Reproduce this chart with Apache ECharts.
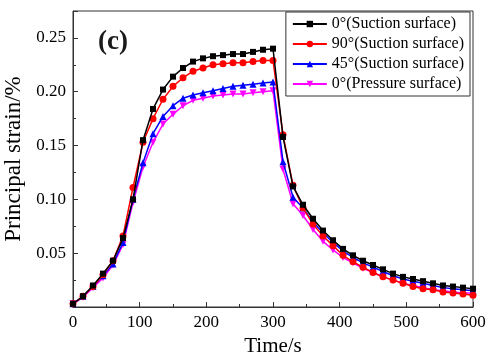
<!DOCTYPE html>
<html><head><meta charset="utf-8">
<script src="https://cdn.jsdelivr.net/npm/echarts@6/dist/echarts.min.js"></script>
<style>html,body{margin:0;padding:0;background:#fff}#c{width:492px;height:364px}</style>
</head><body><div id="c"></div>
<script>
const times = [0,15,30,45,60,75,90,105,120,135,150,165,180,195,210,225,240,255,270,285,300,315,330,345,360,375,390,405,420,435,450,465,480,495,510,525,540,555,570,585,600];
const seriesNames = ['0°(Suction surface)','90°(Suction surface)','45°(Suction surface)','0°(Pressure surface)'];
const suction0 = [0.003,0.010,0.020,0.031,0.043,0.064,0.100,0.155,0.184,0.202,0.214,0.222,0.228,0.231,0.233,0.234,0.235,0.235,0.237,0.239,0.240,0.158,0.112,0.095,0.082,0.071,0.062,0.054,0.048,0.043,0.039,0.035,0.031,0.028,0.026,0.024,0.022,0.020,0.019,0.018,0.017];
const suction90 = [0.003,0.010,0.019,0.030,0.043,0.066,0.111,0.153,0.175,0.193,0.205,0.213,0.219,0.222,0.225,0.226,0.227,0.227,0.228,0.229,0.229,0.160,0.113,0.092,0.077,0.066,0.057,0.048,0.042,0.037,0.032,0.028,0.025,0.022,0.019,0.017,0.016,0.014,0.013,0.012,0.011];
const suction45 = [0.003,0.010,0.019,0.029,0.040,0.060,0.100,0.134,0.161,0.177,0.187,0.194,0.197,0.199,0.201,0.203,0.205,0.206,0.207,0.208,0.209,0.135,0.102,0.092,0.079,0.069,0.060,0.052,0.046,0.041,0.037,0.033,0.029,0.026,0.024,0.022,0.020,0.018,0.017,0.016,0.015];
const pressure0 = [0.003,0.009,0.018,0.027,0.039,0.058,0.097,0.130,0.153,0.170,0.179,0.187,0.192,0.194,0.196,0.197,0.198,0.198,0.199,0.200,0.201,0.128,0.096,0.085,0.072,0.061,0.053,0.046,0.041,0.036,0.032,0.028,0.025,0.022,0.020,0.018,0.016,0.015,0.014,0.013,0.013];
const yTickLabels = ['0.05','0.10','0.15','0.20','0.25'];

const colors = ['#000000','#ff0000','#0000ff','#ff00ff'];
const symbols = ['rect','circle','triangle','triangle'];
const rotates = [0,0,0,180];
const allData = [suction0, suction90, suction45, pressure0];
const font = '"Liberation Serif","DejaVu Serif",serif';

const chart = echarts.init(document.getElementById('c'));
chart.setOption({
  animation:false,
  grid:{left:73,right:19,top:11,bottom:57,show:true,borderColor:'#333',borderWidth:1,containLabel:false,outerBoundsMode:'none'},
  title:{text:'(c)',left:93,top:24,textStyle:{fontFamily:font,fontSize:27,fontWeight:'bold',color:'#1a1a1a'}},
  legend:{
    orient:'vertical',right:22,top:12,itemWidth:34,itemHeight:8,itemGap:4,
    backgroundColor:'#fff',borderColor:'#333',borderWidth:1,padding:[4,6,4,6],
    textStyle:{fontFamily:font,fontSize:16,color:'#000'},
    data:seriesNames
  },
  xAxis:{type:'value',min:0,max:600,interval:100,
    name:'Time/s',nameLocation:'middle',nameGap:27,
    nameTextStyle:{fontFamily:font,fontSize:21,color:'#000'},
    axisLine:{lineStyle:{color:'#333'}},
    axisTick:{inside:true,length:5,lineStyle:{color:'#333'}},
    minorTick:{show:true,splitNumber:2,length:3,lineStyle:{color:'#333'}},
    axisLabel:{fontFamily:font,fontSize:17,color:'#000',margin:7},
    splitLine:{show:false}},
  yAxis:{type:'value',min:0,max:0.275,interval:0.05,
    name:'Principal strain/%',nameLocation:'middle',nameGap:41,
    nameTextStyle:{fontFamily:font,fontSize:23,color:'#000'},
    axisLine:{show:true,lineStyle:{color:'#333'}},
    axisTick:{inside:true,length:5,lineStyle:{color:'#333'}},
    minorTick:{show:true,splitNumber:2,length:3,lineStyle:{color:'#333'}},
    axisLabel:{fontFamily:font,fontSize:17,color:'#000',margin:7,
      formatter:function(v){const s=v.toFixed(2);return yTickLabels.indexOf(s)>=0&&v<0.26?s:'';}},
    splitLine:{show:false}},
  series:seriesNames.map((n,i)=>({
    name:n,type:'line',data:times.map((t,j)=>[t,allData[i][j]]),
    symbol:symbols[i],symbolRotate:rotates[i],symbolSize:i===0?6:7,
    itemStyle:{color:colors[i]},lineStyle:{color:colors[i],width:1.5},z:10-i
  }))
});
</script></body></html>
